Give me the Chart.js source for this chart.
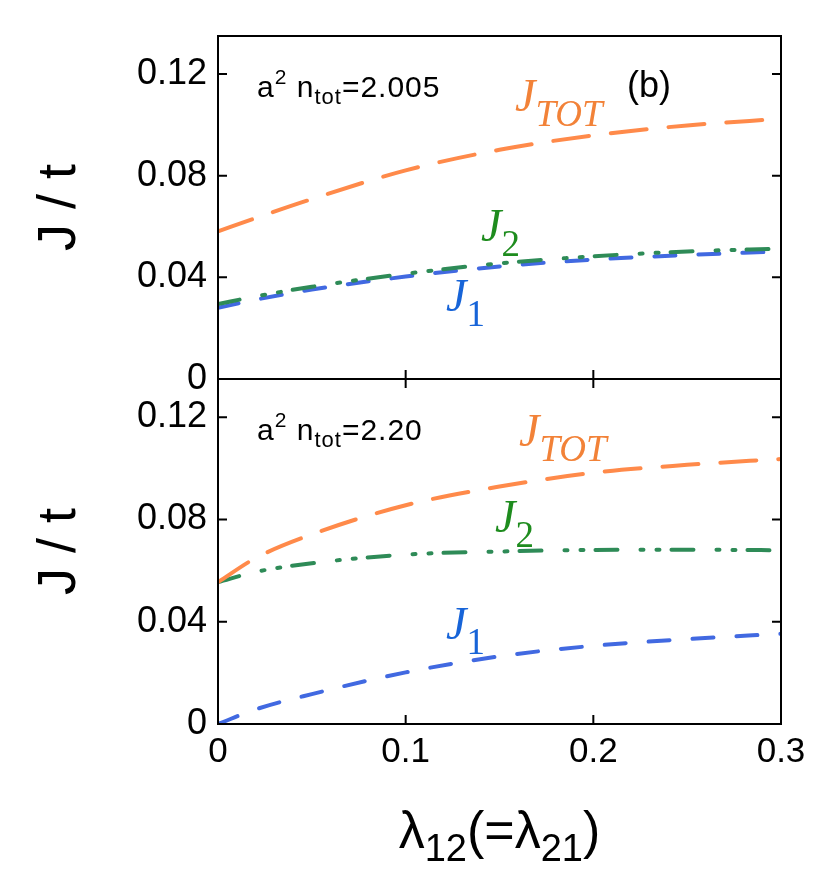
<!DOCTYPE html>
<html>
<head>
<meta charset="utf-8">
<script src="https://cdn.jsdelivr.net/npm/chart.js@4"></script>
<style>
  html, body { margin: 0; padding: 0; background: #fff; }
  #wrap { position: relative; width: 831px; height: 875px; overflow: hidden; }
  canvas { position: absolute; left: 0; }
  .lbl { position: absolute; line-height: 1; white-space: nowrap; }
  .sans { font-family: "Liberation Sans", Arial, sans-serif; color: #000; }
  .jl { font-family: "Liberation Serif", "Times New Roman", serif; font-style: italic; font-size: 46px; }
  .jl .sb { font-size: 37px; position: relative; top: 15px; }
  .jl .up { font-style: normal; }
  .ann { font-size: 30px; letter-spacing: 1px; }
  .ann .sp { font-size: 21px; position: relative; top: -13px; }
  .ann .sb { font-size: 22px; position: relative; top: 7px; }
</style>
</head>
<body>
<div id="wrap">
  <canvas id="top" width="831" height="400" style="top:0"></canvas>
  <canvas id="bot" width="831" height="505" style="top:370px"></canvas>

  <!-- top panel labels -->
  <div class="lbl sans ann" style="left:257px; top:72px">a<span class="sp">2</span> n<span class="sb">tot</span>=2.005</div>
  <div class="lbl sans" style="left:627px; top:67px; font-size:36px">(b)</div>
  <div class="lbl jl" style="left:515px; top:73px; color:#f28238">J<span class="sb">TOT</span></div>
  <div class="lbl jl" style="left:481px; top:203px; color:#1e8c1e">J<span class="sb up">2</span></div>
  <div class="lbl jl" style="left:446px; top:273px; color:#1764d8">J<span class="sb up">1</span></div>

  <!-- bottom panel labels -->
  <div class="lbl sans ann" style="left:257px; top:415px">a<span class="sp">2</span> n<span class="sb">tot</span>=2.20</div>
  <div class="lbl jl" style="left:519px; top:408px; color:#f28238">J<span class="sb">TOT</span></div>
  <div class="lbl jl" style="left:495px; top:494px; color:#1e8c1e">J<span class="sb up">2</span></div>
  <div class="lbl jl" style="left:446px; top:601px; color:#1764d8">J<span class="sb up">1</span></div>

  <!-- x axis title -->
  <div class="lbl sans" style="left:218px; width:563px; text-align:center; top:804px; font-size:52px">λ<span style="font-size:38px; position:relative; top:13px">12</span>(=λ<span style="font-size:38px; position:relative; top:13px">21</span>)</div>
</div>

<script>
// coupling vs lambda_12
const lambda = [0, 0.02, 0.05, 0.1, 0.15, 0.2, 0.25, 0.3];

// a^2 n_tot = 2.005
const jTotTop = [0.0581, 0.0633, 0.0708, 0.0821, 0.0902, 0.0959, 0.0998, 0.1024];
const j2Top   = [0.0295, 0.0325, 0.0363, 0.0414, 0.0455, 0.0483, 0.0502, 0.0513];
const j1Top   = [0.0280, 0.0312, 0.0352, 0.0403, 0.0443, 0.0470, 0.0488, 0.0502];

// a^2 n_tot = 2.20
const jTotBot = [0.0555, 0.0649, 0.0742, 0.0856, 0.0929, 0.0983, 0.1014, 0.1037];
const j2Bot   = [0.0555, 0.0595, 0.0629, 0.0663, 0.0675, 0.0681, 0.0682, 0.0680];
const j1Bot   = [0.0000, 0.0057, 0.0117, 0.0202, 0.0265, 0.0306, 0.0332, 0.0353];

const xTicks = [0, 0.1, 0.2, 0.3];
const yTicks = [0, 0.04, 0.08, 0.12];
const yMax = 0.135;

const FONT = "'Liberation Sans', Arial, sans-serif";
const TICK = 9;

// box around the plot area plus inward ticks (no ticks on the very top edge)
const framePlugin = {
    id: 'frame',
    afterDraw(chart) {
        const { ctx, chartArea: a, scales: { x, y } } = chart;
        const topTicks = chart.canvas.id === 'bot';
        ctx.save();
        ctx.strokeStyle = '#000';
        ctx.lineWidth = 2;
        ctx.strokeRect(a.left, a.top, a.right - a.left, a.bottom - a.top);
        ctx.beginPath();
        y.ticks.forEach(t => {
            const py = y.getPixelForValue(t.value);
            ctx.moveTo(a.left, py); ctx.lineTo(a.left + TICK, py);
            ctx.moveTo(a.right, py); ctx.lineTo(a.right - TICK, py);
        });
        x.ticks.forEach(t => {
            const px = x.getPixelForValue(t.value);
            ctx.moveTo(px, a.bottom); ctx.lineTo(px, a.bottom - TICK);
            if (topTicks) { ctx.moveTo(px, a.top); ctx.lineTo(px, a.top + TICK); }
        });
        ctx.stroke();
        ctx.restore();
    }
};

function series(values, color, dash, order) {
    return {
        data: lambda.map((x, i) => ({ x: x, y: values[i] })),
        borderColor: color,
        borderWidth: 4,
        borderDash: dash,
        borderCapStyle: 'round',
        pointRadius: 0,
        cubicInterpolationMode: 'monotone',
        fill: false,
        order: order
    };
}

function makePanel(id, tot, j2, j1, isBottom) {
    new Chart(document.getElementById(id), {
        type: 'line',
        data: {
            datasets: [
                series(tot, '#ff8a4a', [36, 22], 0),
                series(j2, '#2e8b57', [22, 23, 3, 13, 3, 12], 1),
                series(j1, '#4169e1', [21, 23], 2)
            ]
        },
        options: {
            responsive: false,
            animation: false,
            events: [],
            layout: { padding: isBottom ? { top: 9, right: 50, bottom: 0, left: 0 }
                                        : { top: 36, right: 50, bottom: 21, left: 0 } },
            plugins: { legend: { display: false }, tooltip: { enabled: false } },
            scales: {
                x: {
                    type: 'linear',
                    min: 0,
                    max: 0.3,
                    grid: { display: false, drawTicks: false },
                    border: { display: false },
                    afterBuildTicks: s => { s.ticks = xTicks.map(v => ({ value: v })); },
                    afterFit: s => {
                        s.height = isBottom ? 151 : 0;
                        s.paddingLeft = 0;
                        s.paddingRight = 0;
                    },
                    ticks: {
                        display: isBottom,
                        padding: 7,
                        color: '#000',
                        font: { family: FONT, size: 35 },
                        maxRotation: 0,
                        callback: v => v === 0 ? '0' : String(v)
                    }
                },
                y: {
                    type: 'linear',
                    min: 0,
                    max: yMax,
                    grid: { display: false, drawTicks: false },
                    border: { display: false },
                    afterBuildTicks: s => { s.ticks = yTicks.map(v => ({ value: v })); },
                    afterFit: s => {
                        s.width = 218;
                        s.paddingTop = 0;
                        s.paddingBottom = 0;
                    },
                    ticks: {
                        padding: 11,
                        color: '#000',
                        font: { family: FONT, size: 36 },
                        callback: v => v === 0 ? '0' : v.toFixed(2)
                    },
                    title: {
                        display: true,
                        text: 'J / t',
                        color: '#000',
                        font: { family: FONT, size: 54 },
                        padding: { top: 28, bottom: 0 }
                    }
                }
            }
        },
        plugins: [framePlugin]
    });
}

makePanel('top', jTotTop, j2Top, j1Top, false);
makePanel('bot', jTotBot, j2Bot, j1Bot, true);
</script>
</body>
</html>
